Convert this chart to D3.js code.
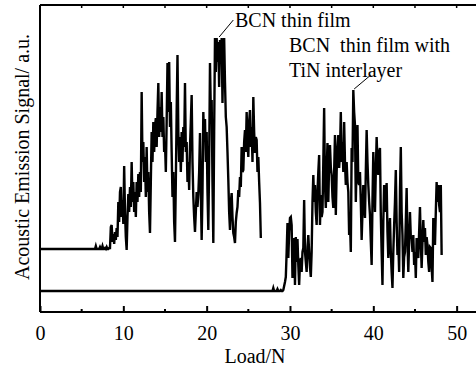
<!DOCTYPE html>
<html>
<head>
<meta charset="utf-8">
<script src="https://cdn.jsdelivr.net/npm/d3@7"></script>
<style>
  body { margin: 0; background: #fff; }
  svg text { font-family: "Liberation Serif", "Times New Roman", serif !important; fill: #000; }
</style>
</head>
<body>
<div id="graf"></div>
<script>
// load axis ticks
const xTicks = [0, 10, 20, 30, 40, 50]
const step = 0.1

// BCN thin film: flat baseline from 0, sampled every 0.1 N from 6.5 N
const bcnBase = 63
const bcnStart = 6.5
const bcnSignal = [
  63, 63, 66, 63, 63, 63, 63, 65, 63, 63, 66, 63, 63, 64, 63, 65, 63, 63, 64,
  64, 85, 87, 70, 78, 68, 80, 72, 84, 75, 110, 90, 120, 125, 95, 112, 88, 146, 100, 75,
  62, 95, 118, 100, 125, 105, 150, 110, 130, 100, 120, 95, 130, 110, 138, 115, 140, 120,
  220, 150, 170, 130, 155, 115, 165, 120, 140, 100, 79, 130, 180, 150, 190, 160, 185,
  194, 165, 200, 229, 175, 205, 180, 220, 175, 195, 160, 170, 140, 190, 249, 200, 250,
  185, 210, 160, 115, 140, 90, 70, 130, 200, 257, 180, 150, 175, 140, 180, 150, 185,
  165, 229, 160, 170, 130, 150, 122, 165, 190, 217, 150, 115, 95, 80, 100, 120, 105,
  118, 140, 179, 120, 72, 120, 200, 170, 193, 150, 180, 120, 82, 150, 249, 200, 212,
  130, 69, 180, 274, 240, 274, 250, 270, 225, 272, 250, 274, 209, 260, 274, 230, 195,
  185, 160, 132, 100, 82, 110, 119, 95, 79, 75, 69, 90, 99, 105, 122, 115, 135, 125,
  165, 140, 142, 170, 182, 160, 200, 170, 155, 190, 202, 165, 185, 150, 215, 180, 159,
  175, 172, 140, 155, 130, 109, 74
]

// BCN thin film with TiN interlayer: flat baseline from 0, sampled from 27.6 N
const tinBase = 21
const tinStart = 27.6
const tinSignal = [
  21, 21, 21, 21, 24, 21, 21, 21, 21, 23, 21, 21, 21, 22, 21, 21,
  22, 26, 30, 35, 60, 89, 54, 80, 94, 95, 87, 34, 60, 74, 27, 75, 50, 73, 47, 27,
  50, 54, 40, 60, 64, 112, 60, 50, 40, 65, 77, 60, 45, 35, 60, 110, 137, 110, 127,
  100, 87, 120, 140, 157, 87, 117, 95, 100, 150, 204, 127, 104, 140, 169, 110, 150,
  167, 145, 137, 115, 104, 140, 177, 97, 140, 165, 177, 144, 160, 200, 150, 170, 140,
  190, 150, 127, 150, 130, 120, 77, 90, 60, 164, 150, 222, 200, 187, 110, 150, 187,
  130, 127, 140, 110, 72, 100, 127, 110, 94, 140, 182, 150, 127, 110, 97, 70, 47, 110,
  160, 130, 100, 140, 175, 150, 137, 160, 164, 97, 60, 27, 90, 127, 100, 114, 129, 80,
  54, 80, 94, 60, 40, 24, 60, 87, 110, 142, 90, 57, 70, 40, 120, 165, 100, 77, 34, 55,
  60, 90, 124, 70, 40, 70, 100, 75, 74, 60, 77, 47, 60, 34, 74, 60, 54, 80, 105, 70,
  44, 70, 92, 70, 84, 57, 75, 67, 50, 40, 65, 64, 45, 30, 94, 80, 67, 100, 130, 110,
  127, 107, 100, 127, 57
]

const anchoTotal = 476
const altoTotal = 369
const serif = "'Liberation Serif', 'Times New Roman', serif"

const svg = d3.select("#graf")
  .append("svg")
  .attr("width", anchoTotal)
  .attr("height", altoTotal)

const x = d3.scaleLinear().domain([0, 55]).range([40, 498.3])
const y = d3.scaleLinear().domain([0, 307]).range([312, 5])

const toPoints = (base, start, vals) =>
  [[0, base]].concat(vals.map((v, i) => [start + i * step, v]))

const line = d3.line()
  .x((d) => x(d[0]))
  .y((d) => y(d[1]))

svg.append("path")
  .datum(toPoints(bcnBase, bcnStart, bcnSignal))
  .attr("d", line)
  .attr("fill", "none")
  .attr("stroke", "#000")
  .attr("stroke-width", 2.4)

svg.append("path")
  .datum(toPoints(tinBase, tinStart, tinSignal))
  .attr("d", line)
  .attr("fill", "none")
  .attr("stroke", "#000")
  .attr("stroke-width", 2.4)

// frame
const minor = d3.range(0, 56, 5)

const xAxis = svg.append("g")
  .attr("transform", `translate(0, ${y(0)})`)
  .call(d3.axisBottom(x).tickValues(xTicks).tickSize(-6).tickPadding(14).tickFormat(d3.format("d")))
xAxis.attr("font-family", serif)
xAxis.select(".domain").attr("stroke-width", 2).attr("d", `M${x(0)},0H${x(55)}`)
xAxis.selectAll(".tick line").attr("stroke-width", 2)
xAxis.selectAll(".tick text")
  .attr("font-size", 20)
  .style("font-family", serif)

xAxis.selectAll(".minor")
  .data(minor.filter((d) => d % 10 !== 0))
  .enter()
  .append("line")
  .attr("x1", (d) => x(d))
  .attr("x2", (d) => x(d))
  .attr("y1", 0)
  .attr("y2", -3)
  .attr("stroke", "#000")
  .attr("stroke-width", 2)

const topAxis = svg.append("g")
  .attr("transform", `translate(0, ${y(307)})`)
topAxis.append("line")
  .attr("x1", x(0)).attr("x2", x(55))
  .attr("stroke", "#000").attr("stroke-width", 2)
topAxis.selectAll(".t")
  .data(minor.filter((d) => d > 0))
  .enter()
  .append("line")
  .attr("x1", (d) => x(d))
  .attr("x2", (d) => x(d))
  .attr("y1", 0)
  .attr("y2", 3)
  .attr("stroke", "#000")
  .attr("stroke-width", 1.5)

svg.append("line")
  .attr("x1", x(0)).attr("x2", x(0))
  .attr("y1", y(307)).attr("y2", y(0))
  .attr("stroke", "#000").attr("stroke-width", 2)

// labels
svg.append("text")
  .attr("x", 255)
  .attr("y", 363)
  .attr("text-anchor", "middle")
  .attr("font-size", 20)
  .style("font-family", serif)
  .text("Load/N")

svg.append("text")
  .attr("transform", `translate(29, 157) rotate(-90)`)
  .attr("text-anchor", "middle")
  .attr("font-size", 20)
  .style("font-family", serif)
  .text("Acoustic Emission Signal/ a.u.")

// annotations
svg.append("line")
  .attr("x1", x(21.5)).attr("y1", y(275))
  .attr("x2", x(23.2)).attr("y2", y(292))
  .attr("stroke", "#000").attr("stroke-width", 1)
svg.append("text")
  .attr("x", 235).attr("y", 27)
  .attr("font-size", 20)
  .style("font-family", serif)
  .text("BCN thin film")

svg.append("line")
  .attr("x1", x(37.7)).attr("y1", y(223))
  .attr("x2", x(39.7)).attr("y2", y(237))
  .attr("stroke", "#000").attr("stroke-width", 1)
svg.append("text")
  .attr("x", 289).attr("y", 52)
  .attr("font-size", 20)
  .style("font-family", serif)
  .style("white-space", "pre")
  .text("BCN  thin film with")
svg.append("text")
  .attr("x", 289).attr("y", 77)
  .attr("font-size", 20)
  .style("font-family", serif)
  .text("TiN interlayer")
</script>
</body>
</html>
